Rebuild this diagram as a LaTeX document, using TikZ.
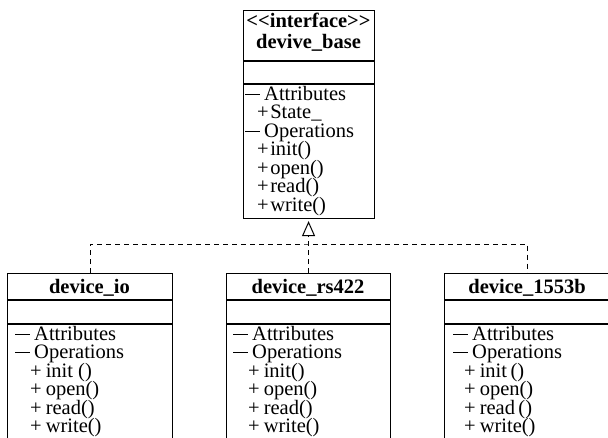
\documentclass[tikz,border=0pt]{standalone}
\usepackage{fontspec}
\setmainfont{Liberation Serif}
\usetikzlibrary{arrows.meta}
\newcommand\umlminus{\raisebox{5.3pt}{\rule{15pt}{0.8pt}}\hspace{4pt}}
\newcommand\umlplus[1][4pt]{+\hspace{#1}}
\newcommand\umlfont{\fontsize{20.5}{20.5}\selectfont}
\tikzset{
  cls/.style={draw, line width=1.1pt, inner sep=0pt, anchor=north west, rectangle},
  sep/.style={line width=1.1pt},
  txt/.style={anchor=base west, inner sep=0pt, text height=13pt, text depth=3.5pt},
  hdr/.style={anchor=base, inner sep=0pt, font=\umlfont\bfseries},
  dep/.style={dash pattern=on 5pt off 4pt, line width=0.9pt},
}
\begin{document}
\begin{tikzpicture}[x=1pt,y=-1pt,font=\umlfont]
\useasboundingbox (0,0) rectangle (608,437);
\clip (0,0) rectangle (608,437);
% top interface box
\node[cls, minimum width=131pt, minimum height=208pt] (base) at (243,10) {};
\draw[sep] (243,61) -- (374,61);
\draw[sep] (243,84) -- (374,84);
\node[hdr] (b0) at (308.5,27) {<\kern0pt<interface>\kern0pt>};
\node[hdr] (b1) at (308.5,48.5) {devive\_base};
\node[txt] (b2) at (245,100) {\umlminus Attributes};
\node[txt] (b3) at (257,118.5) {\umlplus[1.5pt]State\_};
\node[txt] (b4) at (245,137) {\umlminus Operations};
\node[txt] (b5) at (257,155.5) {\umlplus[1.5pt]init()};
\node[txt] (b6) at (257,174) {\umlplus[1.5pt]open()};
\node[txt] (b7) at (257,192.5) {\umlplus[1.5pt]read()};
\node[txt] (b8) at (257,211) {\umlplus[1.5pt]write()};
% device_io
\node[cls, minimum width=165pt, minimum height=190pt] (io) at (7,273) {};
\draw[sep] (7,300) -- (172,300);
\draw[sep] (7,324) -- (172,324);
\node[hdr] (i0) at (89.5,293) {device\_io};
\node[txt] (i1) at (15,340) {\umlminus Attributes};
\node[txt] (i2) at (15,358.5) {\umlminus Operations};
\node[txt] (i3) at (30,377) {\umlplus init ()};
\node[txt] (i4) at (30,395.5) {\umlplus open()};
\node[txt] (i5) at (30,414) {\umlplus read()};
\node[txt] (i6) at (30,432.5) {\umlplus write()};
% device_rs422
\node[cls, minimum width=164pt, minimum height=190pt] (rs) at (226,273) {};
\draw[sep] (226,300) -- (390,300);
\draw[sep] (226,324) -- (390,324);
\node[hdr] (r0) at (308,293) {device\_rs422};
\node[txt] (r1) at (233,340) {\umlminus Attributes};
\node[txt] (r2) at (233,358.5) {\umlminus Operations};
\node[txt] (r3) at (248,377) {\umlplus init()};
\node[txt] (r4) at (248,395.5) {\umlplus open()};
\node[txt] (r5) at (248,414) {\umlplus read()};
\node[txt] (r6) at (248,432.5) {\umlplus write()};
% device_1553b
\node[cls, minimum width=166pt, minimum height=190pt] (mb) at (444,273) {};
\draw[sep] (444,300) -- (610,300);
\draw[sep] (444,324) -- (610,324);
\node[hdr] (m0) at (527,293) {device\_1553b};
\node[txt] (m1) at (453,340) {\umlminus Attributes};
\node[txt] (m2) at (453,358.5) {\umlminus Operations};
\node[txt] (m3) at (464,377) {\umlplus init\,()};
\node[txt] (m4) at (464,395.5) {\umlplus open()};
\node[txt] (m5) at (464,414) {\umlplus read\,()};
\node[txt] (m6) at (464,432.5) {\umlplus write()};
% realisation connectors
\coordinate (j) at (308,244);
\draw[dep] (io.north) |- (j) -| (mb.north);
\draw[dep, -{Triangle[open, width=13pt, length=15pt, line width=1pt]}, shorten >=2pt] (rs.north) -- (base.south -| rs.north);
\end{tikzpicture}
\end{document}
